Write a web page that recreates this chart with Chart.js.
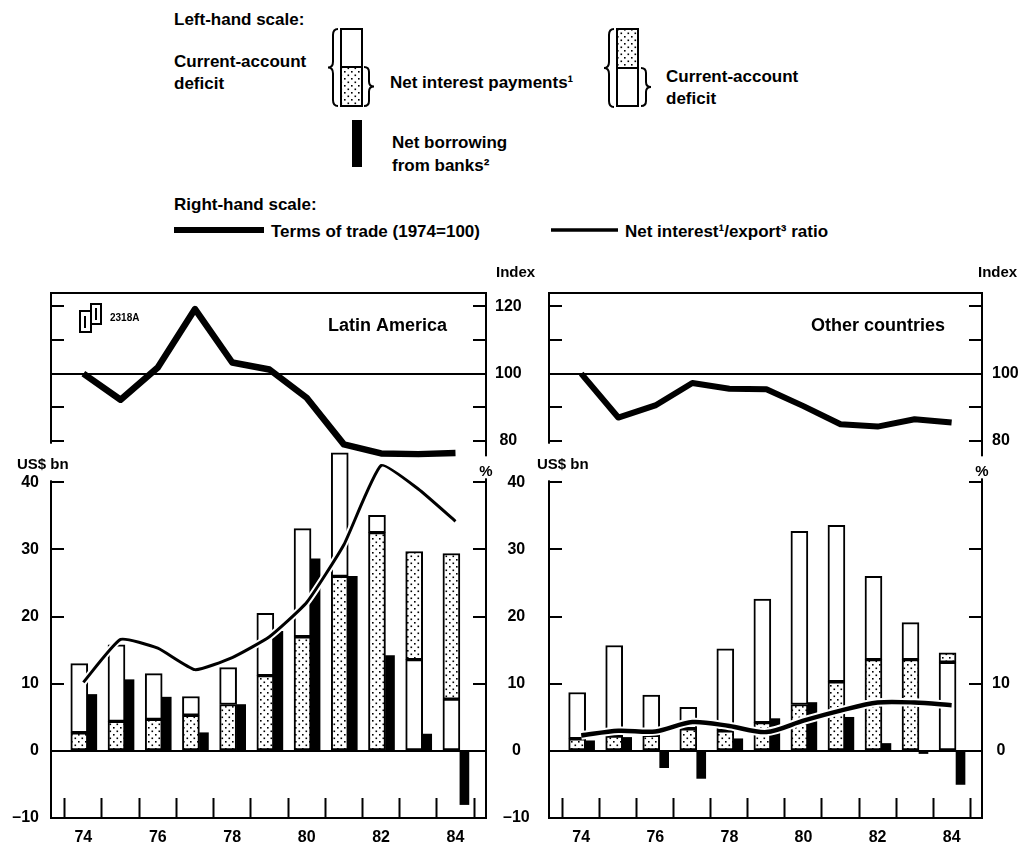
<!DOCTYPE html>
<html>
<head>
<meta charset="utf-8">
<title>Current-account deficits, interest payments and bank borrowing</title>
<script src="https://cdn.jsdelivr.net/npm/chart.js@4.4.1/dist/chart.umd.min.js"></script>
<style>
  html, body { margin: 0; padding: 0; background: #fff; }
  #page { position: relative; width: 1024px; height: 847px; overflow: hidden; background: #fff; }
  #legend { position: absolute; left: 0; top: 0; }
  #legend text { font-family: "Liberation Sans", Arial, sans-serif; font-weight: bold; font-size: 17px; fill: #000; }
  .panel { position: absolute; top: 250px; height: 597px; }
  #laPanel { left: 0; width: 545px; }
  #ocPanel { left: 528px; width: 496px; }
</style>
</head>
<body>
<div id="page">
  <svg id="legend" width="1024" height="250">
    <defs>
      <pattern id="dots" width="7" height="7" patternUnits="userSpaceOnUse">
        <rect width="7" height="7" fill="#fff"/>
        <rect x="1" y="1" width="1.6" height="1.6" fill="#000"/>
        <rect x="4.5" y="4.5" width="1.6" height="1.6" fill="#000"/>
      </pattern>
    </defs>
    <text x="174" y="25">Left-hand scale:</text>
    <text x="174" y="67">Current-account</text>
    <text x="174" y="89">deficit</text>

    <!-- current-account deficit bigger than interest -->
    <path d="M338 29 Q333 29 333 35 L333 61.5 Q333 67.5 328 67.5 Q333 67.5 333 73.5 L333 100 Q333 106 338 106" fill="none" stroke="#000" stroke-width="2"/>
    <rect x="341" y="29" width="21" height="38" fill="#fff" stroke="#000" stroke-width="2"/>
    <rect x="341" y="67" width="21" height="39" fill="url(#dots)" stroke="#000" stroke-width="2"/>
    <path d="M364 67 Q369 67 369 72 L369 81.5 Q369 86.5 374 86.5 Q369 86.5 369 91.5 L369 101 Q369 106 364 106" fill="none" stroke="#000" stroke-width="2"/>
    <text x="390" y="88">Net interest payments¹</text>

    <!-- interest bigger than current-account deficit -->
    <path d="M614 29 Q609 29 609 35 L609 62 Q609 68 604 68 Q609 68 609 74 L609 101 Q609 107 614 107" fill="none" stroke="#000" stroke-width="2"/>
    <rect x="617" y="29" width="21" height="39" fill="url(#dots)" stroke="#000" stroke-width="2"/>
    <rect x="617" y="68" width="21" height="38" fill="#fff" stroke="#000" stroke-width="2"/>
    <path d="M641 68 Q646 68 646 73 L646 82 Q646 87 651 87 Q646 87 646 92 L646 101 Q646 106 641 106" fill="none" stroke="#000" stroke-width="2"/>
    <text x="666" y="82">Current-account</text>
    <text x="666" y="104">deficit</text>

    <rect x="352" y="120" width="10" height="47" fill="#000"/>
    <text x="392" y="148">Net borrowing</text>
    <text x="392" y="171">from banks²</text>

    <text x="174" y="210">Right-hand scale:</text>
    <line x1="174" y1="230" x2="264" y2="230" stroke="#000" stroke-width="6"/>
    <text x="271" y="237">Terms of trade (1974=100)</text>
    <line x1="551" y1="230" x2="618" y2="230" stroke="#000" stroke-width="3.5"/>
    <text x="625" y="237">Net interest¹/export³ ratio</text>
  </svg>
  <div class="panel" id="laPanel"><canvas id="laChart"></canvas></div>
  <div class="panel" id="ocPanel"><canvas id="ocChart"></canvas></div>
</div>

<script>
// ---------------------------------------------------------------
// Data
// ---------------------------------------------------------------
const years = [74, 75, 76, 77, 78, 79, 80, 81, 82, 83, 84];
const yearTickLabels = [74, 76, 78, 80, 82, 84];
const usdTicks = [-10, 0, 10, 20, 30, 40];
const indexTicks = [80, 90, 100, 110, 120];

// Latin America (US$ bn, %, index)
const laDeficit = [13.0, 15.8, 11.5, 8.1, 12.4, 20.5, 33.1, 44.4, 35.1, 13.6, 7.7];
const laInterest = [2.7, 4.4, 4.7, 5.3, 6.9, 11.2, 17.0, 26.0, 32.5, 29.7, 29.4];
const laBankBorrowing = [8.4, 10.6, 8.0, 2.7, 6.9, 17.8, 28.6, 26.0, 14.2, 2.5, -8.0];
const laInterestExportRatio = [10.2, 16.6, 15.3, 12.1, 13.9, 17.0, 22.1, 30.7, 42.5, 39.0, 34.2];
const laTermsOfTrade = [100, 92.2, 101.8, 119.2, 103.3, 101.2, 92.8, 78.9, 76.2, 76.0, 76.3];
const laIndexLabels = [80, 100, 120];
const laPctLabels = [-10, 0, 10, 20, 30, 40];

// Other countries
const ocDeficit = [8.7, 15.7, 8.3, 6.5, 15.2, 22.6, 32.7, 33.6, 26.0, 19.1, 13.2];
const ocInterest = [1.8, 2.2, 2.3, 3.3, 3.0, 4.2, 6.9, 10.3, 13.6, 13.6, 14.6];
const ocBankBorrowing = [1.5, 2.0, -2.5, -4.1, 1.8, 4.8, 7.2, 5.0, 1.1, -0.4, -5.0];
const ocInterestExportRatio = [2.3, 3.0, 2.9, 4.3, 3.7, 2.8, 4.5, 6.0, 7.2, 7.2, 6.8];
const ocTermsOfTrade = [100, 86.9, 90.5, 97.2, 95.5, 95.3, 90.3, 84.9, 84.2, 86.4, 85.4];
const ocIndexLabels = [80, 100];
const ocPctLabels = [0, 10];

// ---------------------------------------------------------------
// Frame geometry
// ---------------------------------------------------------------
const X_MIN = 73.13, X_MAX = 84.82;
const Y_MIN = -10, Y_MAX = 68.2;
// index scale lives in the top part of the same frame: 100 sits at 56.2 on the US$ scale,
// two index points per US$ bn
const IDX_MIN = 100 + (Y_MIN - 56.2) * 2;
const IDX_MAX = 100 + (Y_MAX - 56.2) * 2;
const DEFICIT_SHIFT = -0.11;   // white/dotted bar left of the year
const BANK_SHIFT = 0.24;       // black bar right of it

const FONT = '"Liberation Sans", Arial, sans-serif';
const tickFont = { family: FONT, size: 16, weight: 'bold' };
Chart.defaults.font.family = FONT;
Chart.defaults.color = '#000';

const xTickValues = years.map((y) => y - 0.5)
  .concat([years[years.length - 1] + 0.5], yearTickLabels)
  .sort((a, b) => a - b);

function dotPattern() {
  const c = document.createElement('canvas');
  c.width = 7;
  c.height = 7;
  const g = c.getContext('2d');
  g.fillStyle = '#fff';
  g.fillRect(0, 0, 7, 7);
  g.fillStyle = '#000';
  g.fillRect(1, 1, 1.6, 1.6);
  g.fillRect(4.5, 4.5, 1.6, 1.6);
  return g.createPattern(c, 'repeat');
}
const dots = dotPattern();

const fmt = (v) => (v < 0 ? '\u2013' + Math.abs(v) : String(v));
const noPad = (s) => { s.paddingTop = 0; s.paddingBottom = 0; s.paddingLeft = 0; s.paddingRight = 0; };
const setTicks = (vals) => (s) => { s.ticks = vals.map((v) => ({ value: v })); };
const clear = 'rgba(0,0,0,0)';

// ---------------------------------------------------------------
// Titles, unit labels and the gaps they leave in the frame
// ---------------------------------------------------------------
function panelDecor(p, g) {
  return {
    id: 'panelDecor',
    afterLayout(chart) {
      // index axis takes no room of its own, but its labels need a box to be drawn in
      const s = chart.scales.yIdx;
      s.right = s.left + g.rightWidth;
      s.width = g.rightWidth;
    },
    afterDraw(chart) {
      const ctx = chart.ctx;
      const { left, right, top } = chart.chartArea;
      const y = chart.scales.y;
      const y40 = y.getPixelForValue(40);
      const y80 = chart.scales.yIdxL.getPixelForValue(80);
      ctx.save();
      ctx.fillStyle = '#fff';
      ctx.fillRect(left - 6, y80 + 3, 12, y40 - y80 - 5);
      ctx.fillRect(right - 6, y40 - 26, 12, 22);
      ctx.fillStyle = '#000';
      ctx.font = 'bold 15px ' + FONT;
      ctx.textAlign = 'left';
      ctx.fillText('US$ bn', g.usdX, y40 - 13);
      ctx.fillText('Index', g.indexX, top - 16);
      ctx.textAlign = 'center';
      ctx.fillText('%', right, y40 - 6);
      ctx.font = 'bold 18px ' + FONT;
      ctx.textAlign = 'right';
      ctx.fillText(p.title, g.titleX, top + 38);
      if (g.refMark) {
        // chart reference number in the corner
        ctx.font = 'bold 10px ' + FONT;
        ctx.textAlign = 'left';
        ctx.fillText('2318A', 110, top + 28);
        ctx.lineWidth = 2;
        ctx.strokeRect(80, top + 18, 11, 21);
        ctx.strokeRect(91, top + 11, 10, 20);
        ctx.fillRect(84, top + 23, 2, 12);
        ctx.fillRect(95, top + 15, 2, 12);
      }
      ctx.restore();
    }
  };
}

// ---------------------------------------------------------------
// One panel: bars on the US$ scale, lines on the % and index scales
// ---------------------------------------------------------------
function makePanel(canvasId, p, g) {
  const lower = p.deficit.map((v, i) => Math.min(v, p.interest[i]));
  const upper = p.deficit.map((v, i) => Math.max(v, p.interest[i]));
  const interestBelow = p.deficit.map((v, i) => p.interest[i] <= v);

  const barStyle = {
    type: 'bar', grouped: false, xAxisID: 'x', yAxisID: 'y',
    borderColor: '#000', borderWidth: 2, borderSkipped: false, barThickness: 17
  };
  const lineStyle = {
    type: 'line', xAxisID: 'x', pointRadius: 0, fill: false,
    borderJoinStyle: 'round', borderCapStyle: 'butt'
  };

  const datasets = [
    Object.assign({}, barStyle, {
      label: 'lower part',
      data: years.map((yr, i) => ({ x: yr + DEFICIT_SHIFT, y: [0, lower[i]] })),
      backgroundColor: interestBelow.map((b) => (b ? dots : '#fff')),
      order: 3
    }),
    Object.assign({}, barStyle, {
      label: 'upper part',
      data: years.map((yr, i) => ({ x: yr + DEFICIT_SHIFT, y: [lower[i], upper[i]] })),
      backgroundColor: interestBelow.map((b) => (b ? '#fff' : dots)),
      order: 4
    }),
    {
      type: 'bar', grouped: false, xAxisID: 'x', yAxisID: 'y',
      label: 'Net borrowing from banks',
      data: years.map((yr, i) => ({ x: yr + BANK_SHIFT, y: p.borrowing[i] })),
      backgroundColor: '#000', borderWidth: 0, barThickness: 9,
      order: 5
    },
    Object.assign({}, lineStyle, {
      label: 'ratio halo', yAxisID: 'yPct',
      data: years.map((yr, i) => ({ x: yr, y: p.ratio[i] })),
      borderColor: '#fff', borderWidth: g.ratioWidth + 4, tension: g.tension, order: 2
    }),
    Object.assign({}, lineStyle, {
      label: 'Net interest/export ratio', yAxisID: 'yPct',
      data: years.map((yr, i) => ({ x: yr, y: p.ratio[i] })),
      borderColor: '#000', borderWidth: g.ratioWidth, tension: g.tension, order: 1
    }),
    Object.assign({}, lineStyle, {
      label: 'Terms of trade', yAxisID: 'yIdx',
      data: years.map((yr, i) => ({ x: yr, y: p.terms[i] })),
      borderColor: '#000', borderWidth: g.termsWidth, tension: 0, order: 0
    })
  ];

  const inTick = { tickLength: -13, tickWidth: 2, tickColor: '#000', lineWidth: 2 };

  return new Chart(document.getElementById(canvasId), {
    type: 'bar',
    data: { datasets },
    options: {
      responsive: true,
      maintainAspectRatio: false,
      animation: false,
      events: [],
      layout: { padding: { top: 43, left: 0, right: 0, bottom: 0 } },
      plugins: { legend: { display: false }, tooltip: { enabled: false } },
      scales: {
        x: {
          type: 'linear', position: 'bottom', min: X_MIN, max: X_MAX, offset: false,
          afterBuildTicks: setTicks(xTickValues),
          afterFit: (s) => { s.height = 29; noPad(s); },
          ticks: {
            autoSkip: false, maxRotation: 0, minRotation: 0, padding: 30, font: tickFont, color: '#000',
            callback: (v) => (yearTickLabels.includes(v) ? String(v) : '')
          },
          grid: {
            offset: false, drawOnChartArea: false, tickLength: -20, tickWidth: 2,
            tickColor: (c) => (c.tick && Number.isInteger(c.tick.value) ? clear : '#000')
          },
          border: { color: '#000', width: 2 }
        },
        xTop: {
          type: 'linear', position: 'top', min: X_MIN, max: X_MAX, offset: false,
          afterFit: (s) => { s.height = 0; noPad(s); },
          ticks: { display: false },
          grid: { offset: false, drawOnChartArea: false, drawTicks: false },
          border: { color: '#000', width: 2 }
        },
        y: {
          position: 'left', weight: 1, min: Y_MIN, max: Y_MAX,
          afterBuildTicks: setTicks(usdTicks),
          afterFit: (s) => { s.width = g.leftWidth; noPad(s); },
          ticks: { display: g.usdLabels, padding: 25, font: tickFont, color: '#000', callback: fmt },
          grid: Object.assign({}, inTick, {
            drawOnChartArea: true,
            color: (c) => (c.tick && c.tick.value === 0 ? '#000' : clear)
          }),
          border: { color: '#000', width: 2 }
        },
        yIdxL: {
          position: 'left', weight: 0, min: IDX_MIN, max: IDX_MAX,
          afterBuildTicks: setTicks(indexTicks),
          afterFit: (s) => { s.width = 0; noPad(s); },
          ticks: { display: false },
          grid: Object.assign({}, inTick, {
            drawOnChartArea: true,
            color: (c) => (c.tick && c.tick.value === 100 ? '#000' : clear)
          }),
          border: { color: '#000', width: 2 }
        },
        yIdx: {
          position: 'right', weight: 0, min: IDX_MIN, max: IDX_MAX,
          afterBuildTicks: setTicks(indexTicks),
          afterFit: (s) => { s.width = 0; noPad(s); },
          ticks: {
            padding: g.idxPad, crossAlign: g.idxAlign, font: tickFont, color: '#000',
            callback: (v) => (p.indexLabels.includes(v) ? String(v) : '')
          },
          grid: Object.assign({}, inTick, { drawOnChartArea: false }),
          border: { color: '#000', width: 2 }
        },
        yPct: {
          position: 'right', weight: 1, min: Y_MIN, max: Y_MAX,
          afterBuildTicks: setTicks(usdTicks),
          afterFit: (s) => { s.width = g.rightWidth; noPad(s); },
          ticks: {
            padding: g.pctPad, crossAlign: 'center', font: tickFont, color: '#000',
            callback: (v) => (p.pctLabels.includes(v) ? fmt(v) : '')
          },
          grid: Object.assign({}, inTick, { drawOnChartArea: false }),
          border: { color: '#000', width: 2 }
        }
      }
    },
    plugins: [panelDecor(p, g)]
  });
}

makePanel('laChart', {
  title: 'Latin America',
  deficit: laDeficit, interest: laInterest, borrowing: laBankBorrowing,
  ratio: laInterestExportRatio, terms: laTermsOfTrade,
  indexLabels: laIndexLabels, pctLabels: laPctLabels
}, {
  leftWidth: 51, rightWidth: 59, usdLabels: true,
  idxPad: 22, idxAlign: 'center', pctPad: 30,
  ratioWidth: 3, termsWidth: 6.5, tension: 0.15,
  usdX: 17, indexX: 496, titleX: 447, refMark: true
});

makePanel('ocChart', {
  title: 'Other countries',
  deficit: ocDeficit, interest: ocInterest, borrowing: ocBankBorrowing,
  ratio: ocInterestExportRatio, terms: ocTermsOfTrade,
  indexLabels: ocIndexLabels, pctLabels: ocPctLabels
}, {
  leftWidth: 21, rightWidth: 42, usdLabels: false,
  idxPad: 23, idxAlign: 'near', pctPad: 23,
  ratioWidth: 4.5, termsWidth: 6, tension: 0.3,
  usdX: 9, indexX: 450, titleX: 417, refMark: false
});
</script>
</body>
</html>
